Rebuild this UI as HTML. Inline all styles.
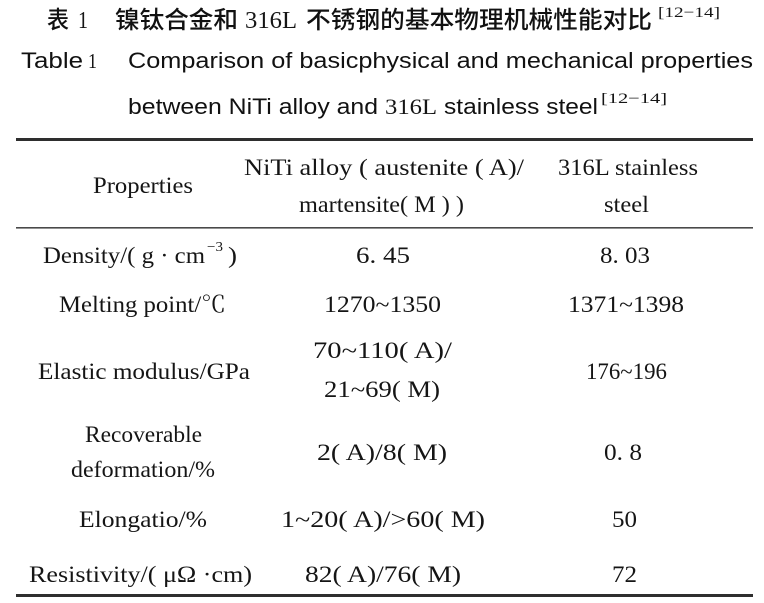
<!DOCTYPE html>
<html>
<head>
<meta charset="utf-8">
<style>
html,body{margin:0;padding:0;background:#fff;width:764px;height:603px;overflow:hidden}
svg{display:block}
.cj{font-family:"Noto Sans CJK SC","WenQuanYi Zen Hei",sans-serif;font-size:24px;font-weight:500;fill:#111}
.ss{font-family:"Liberation Sans",Arial,sans-serif;font-size:22px;fill:#111}
.sf{font-family:"Liberation Serif","Noto Serif CJK SC",serif;fill:#151515}
.t{font-size:23px}
</style>
</head>
<body>
<svg width="764" height="603" viewBox="0 0 764 603" xmlns="http://www.w3.org/2000/svg">
<rect width="764" height="603" fill="#fff"/>

<!-- Chinese title -->
<text class="cj" x="47" y="28" textLength="22" lengthAdjust="spacingAndGlyphs">表</text>
<text class="sf" x="78" y="28" font-size="24" textLength="10" lengthAdjust="spacingAndGlyphs">1</text>
<text class="cj" x="115" y="28" textLength="123" lengthAdjust="spacingAndGlyphs">镍钛合金和</text>
<text class="sf" x="245" y="28" font-size="24" textLength="52" lengthAdjust="spacingAndGlyphs">316L</text>
<text class="cj" x="306" y="28" textLength="346" lengthAdjust="spacingAndGlyphs">不锈钢的基本物理机械性能对比</text>
<text class="sf" x="658" y="17" font-size="15" textLength="62" lengthAdjust="spacingAndGlyphs">[12−14]</text>

<!-- English title -->
<text class="ss" x="21" y="68" textLength="62" lengthAdjust="spacingAndGlyphs">Table</text>
<text class="sf" x="88" y="68" font-size="21" textLength="9" lengthAdjust="spacingAndGlyphs">1</text>
<text class="ss" x="128" y="68" textLength="625" lengthAdjust="spacingAndGlyphs">Comparison of basicphysical and mechanical properties</text>

<text class="ss" x="128" y="114" textLength="250" lengthAdjust="spacingAndGlyphs">between NiTi alloy and</text>
<text class="sf" x="385" y="114" font-size="22" textLength="52" lengthAdjust="spacingAndGlyphs">316L</text>
<text class="ss" x="444" y="114" textLength="154" lengthAdjust="spacingAndGlyphs">stainless steel</text>
<text class="sf" x="601" y="103" font-size="15" textLength="66" lengthAdjust="spacingAndGlyphs">[12−14]</text>

<!-- Rules -->
<rect x="16" y="138" width="737" height="3" fill="#2e2e2e"/>
<rect x="16" y="227" width="737" height="1.6" fill="#4a4a4a"/>
<rect x="16" y="594" width="737" height="3" fill="#2e2e2e"/>

<!-- Header -->
<text class="sf t" x="93" y="193" textLength="100" lengthAdjust="spacingAndGlyphs">Properties</text>
<text class="sf t" x="244" y="175" textLength="280" lengthAdjust="spacingAndGlyphs">NiTi alloy ( austenite ( A)/</text>
<text class="sf t" x="299" y="212" textLength="165" lengthAdjust="spacingAndGlyphs">martensite( M ) )</text>
<text class="sf t" x="558" y="175" textLength="140" lengthAdjust="spacingAndGlyphs">316L stainless</text>
<text class="sf t" x="604" y="212" textLength="45" lengthAdjust="spacingAndGlyphs">steel</text>

<!-- Density -->
<text class="sf t" x="43" y="263" textLength="162" lengthAdjust="spacingAndGlyphs">Density/( g · cm</text>
<text class="sf" x="207" y="251" font-size="14" textLength="16" lengthAdjust="spacingAndGlyphs">−3</text>
<text class="sf t" x="228" y="263" textLength="9" lengthAdjust="spacingAndGlyphs">)</text>
<text class="sf t" x="356" y="263" textLength="54" lengthAdjust="spacingAndGlyphs">6. 45</text>
<text class="sf t" x="600" y="263" textLength="50" lengthAdjust="spacingAndGlyphs">8. 03</text>

<!-- Melting point -->
<text class="sf t" x="59" y="312" textLength="167" lengthAdjust="spacingAndGlyphs">Melting point/℃</text>
<text class="sf t" x="324" y="312" textLength="117" lengthAdjust="spacingAndGlyphs">1270~1350</text>
<text class="sf t" x="568" y="312" textLength="116" lengthAdjust="spacingAndGlyphs">1371~1398</text>

<!-- Elastic modulus -->
<text class="sf t" x="38" y="379" textLength="212" lengthAdjust="spacingAndGlyphs">Elastic modulus/GPa</text>
<text class="sf t" x="313" y="358" textLength="139" lengthAdjust="spacingAndGlyphs">70~110( A)/</text>
<text class="sf t" x="324" y="397" textLength="116" lengthAdjust="spacingAndGlyphs">21~69( M)</text>
<text class="sf t" x="586" y="379" textLength="81" lengthAdjust="spacingAndGlyphs">176~196</text>

<!-- Recoverable deformation -->
<text class="sf t" x="85" y="442" textLength="117" lengthAdjust="spacingAndGlyphs">Recoverable</text>
<text class="sf t" x="71" y="477" textLength="144" lengthAdjust="spacingAndGlyphs">deformation/%</text>
<text class="sf t" x="317" y="460" textLength="130" lengthAdjust="spacingAndGlyphs">2( A)/8( M)</text>
<text class="sf t" x="604" y="460" textLength="38" lengthAdjust="spacingAndGlyphs">0. 8</text>

<!-- Elongation -->
<text class="sf t" x="79" y="527" textLength="128" lengthAdjust="spacingAndGlyphs">Elongatio/%</text>
<text class="sf t" x="281" y="527" textLength="204" lengthAdjust="spacingAndGlyphs">1~20( A)/&gt;60( M)</text>
<text class="sf t" x="612" y="527" textLength="25" lengthAdjust="spacingAndGlyphs">50</text>

<!-- Resistivity -->
<text class="sf t" x="29" y="582" textLength="223" lengthAdjust="spacingAndGlyphs">Resistivity/( μΩ ·cm)</text>
<text class="sf t" x="305" y="582" textLength="156" lengthAdjust="spacingAndGlyphs">82( A)/76( M)</text>
<text class="sf t" x="612" y="582" textLength="25" lengthAdjust="spacingAndGlyphs">72</text>
</svg>
</body>
</html>
